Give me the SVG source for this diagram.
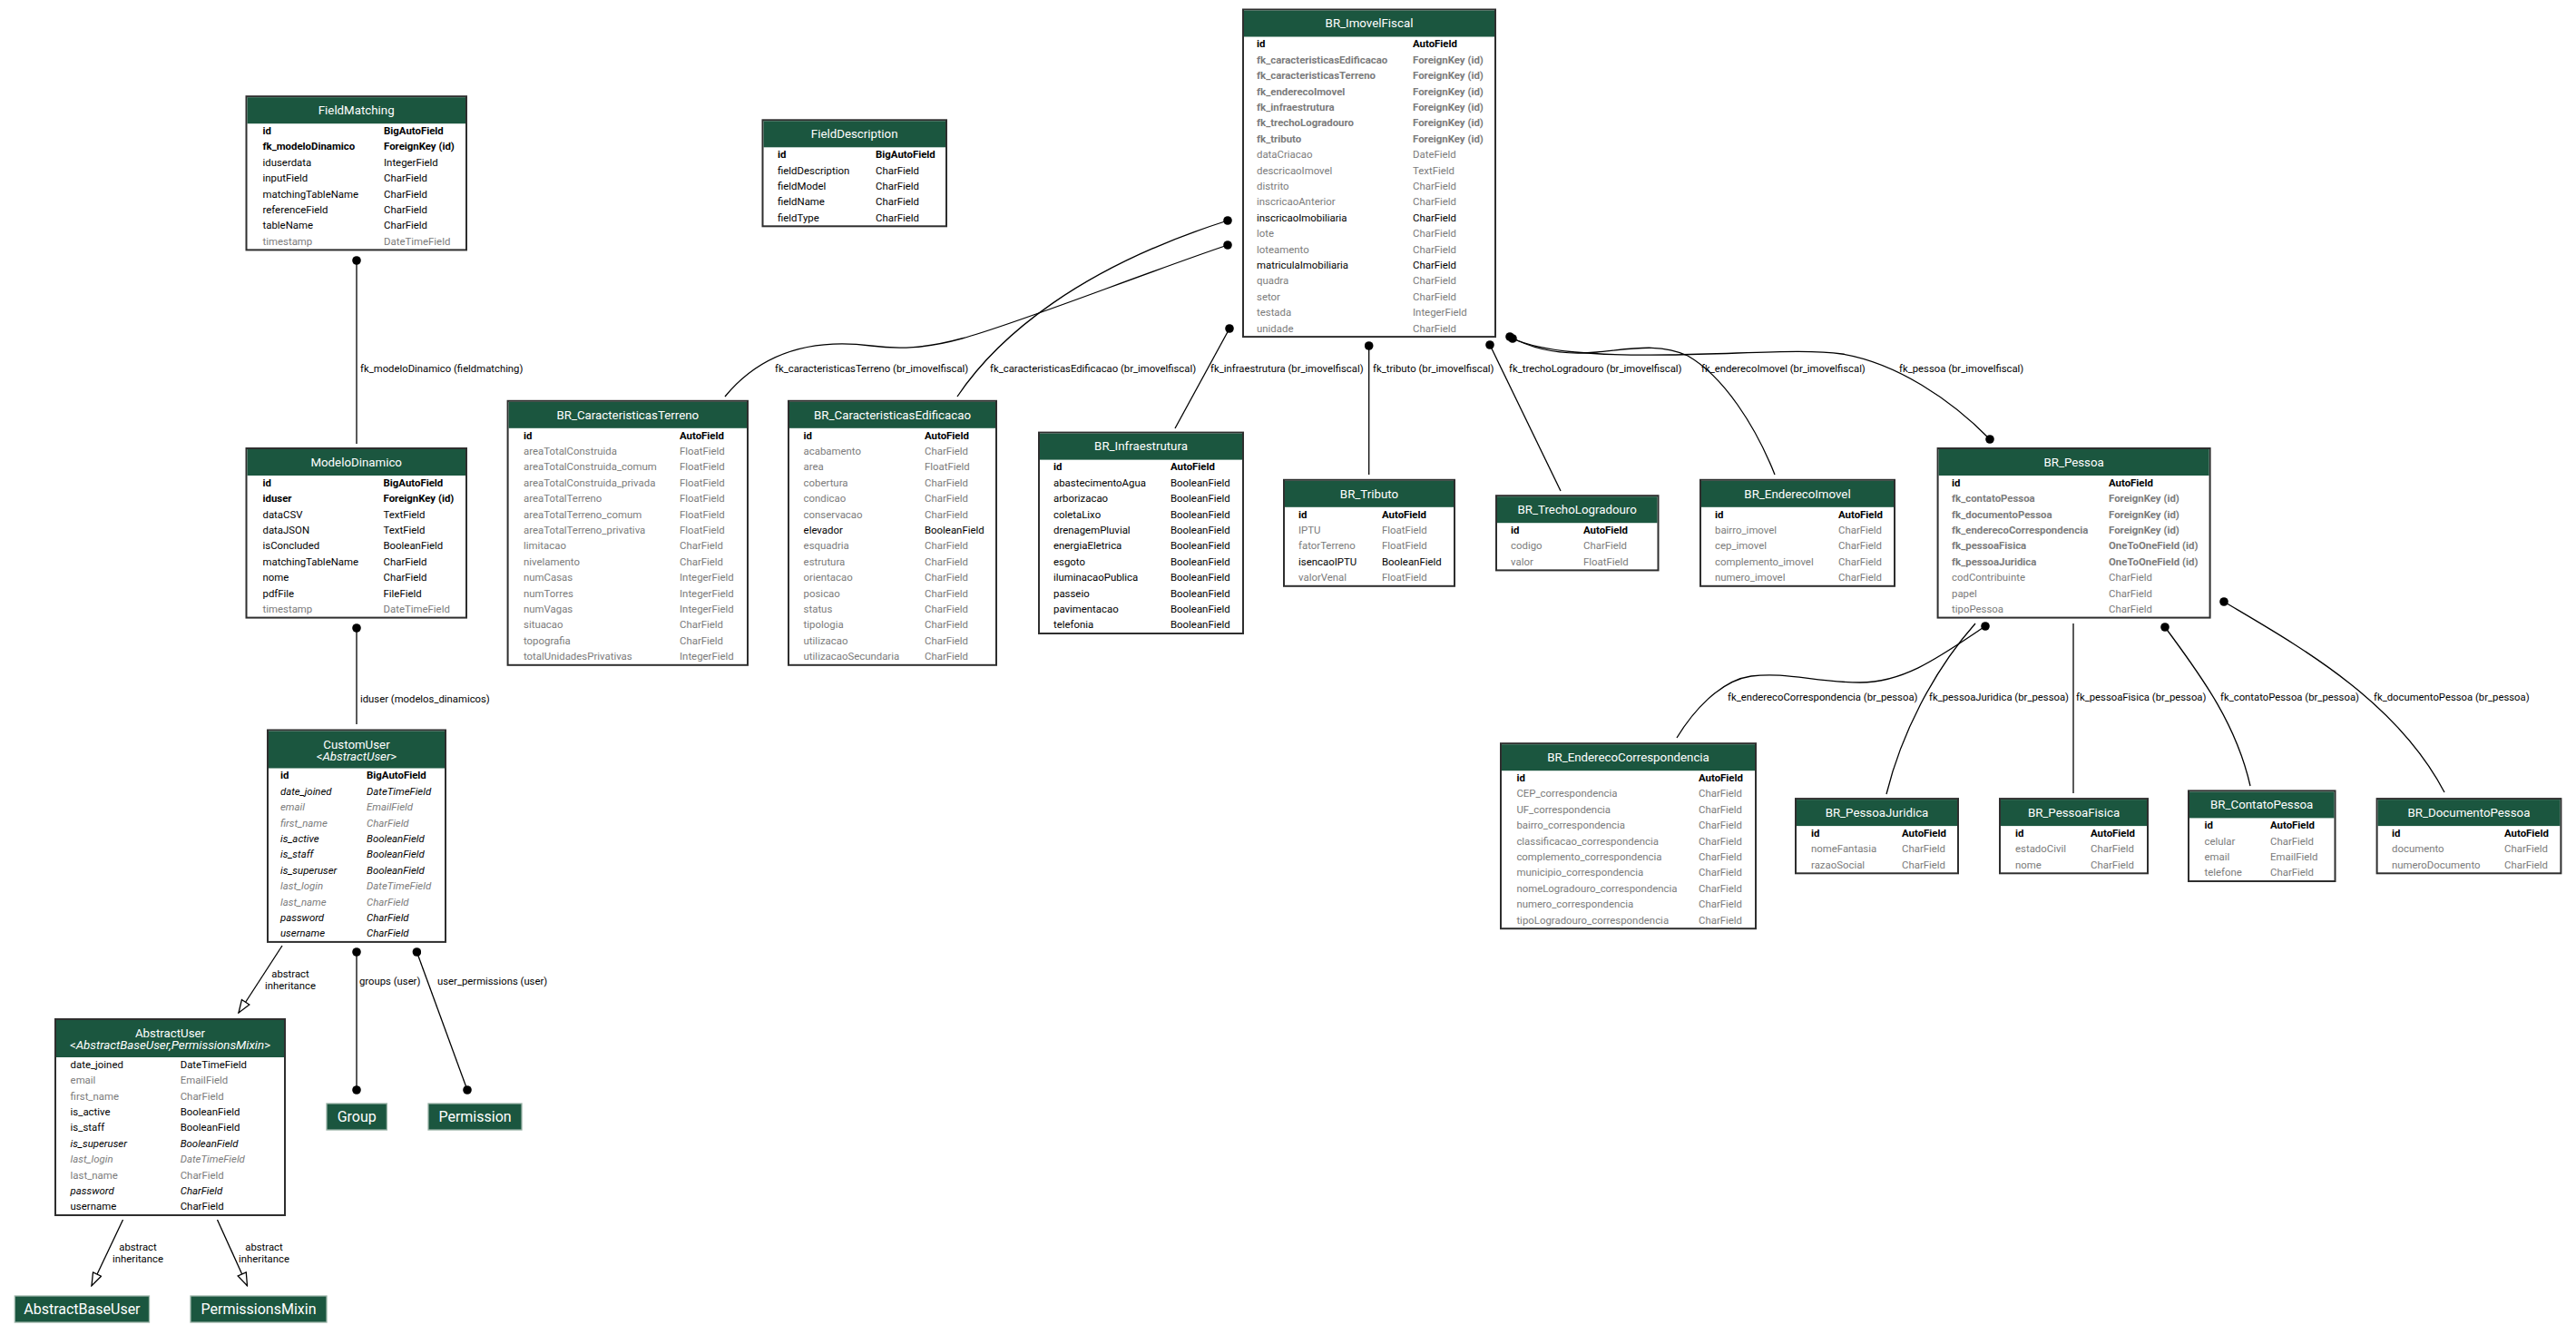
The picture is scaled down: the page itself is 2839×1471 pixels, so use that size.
<svg xmlns="http://www.w3.org/2000/svg" width="2839" height="1471" viewBox="0 0 2839 1471">
<defs>
  <marker id="dot" viewBox="0 0 10 10" refX="5" refY="5" markerWidth="10" markerHeight="10" markerUnits="userSpaceOnUse">
    <circle cx="5" cy="5" r="4.8" fill="#000"/>
  </marker>
  <marker id="empty" viewBox="0 0 16 12" refX="15" refY="6" markerWidth="16" markerHeight="12" markerUnits="userSpaceOnUse" orient="auto">
    <path d="M1,1 L15,6 L1,11 Z" fill="#fff" stroke="#000" stroke-width="1.3"/>
  </marker>
</defs>
<style>
  text { font-family: Roboto, "Liberation Sans", sans-serif; }
  .box { fill: #fff; stroke: #2e2e2e; stroke-width: 2; }
  .hdr { fill: #1b563f; }
  .title { fill: #fff; font-size: 13.3px; text-anchor: middle; }
  .f { font-size: 11.4px; fill: #000; }
  .g { fill: #7b7b7b; }
  .b { font-weight: bold; }
  .i { font-style: italic; }
  .ext { fill: #1b563f; stroke: #9ab3a7; stroke-width: 1.3; }
  .extt { fill: #fff; font-size: 16px; text-anchor: middle; }
  .edge { fill: none; stroke: #000; stroke-width: 1.3; }
  .fk { marker-start: url(#dot); }
  .m2m { marker-start: url(#dot); marker-end: url(#dot); }
  .inh { marker-end: url(#empty); }
  .lbl { font-size: 11.3px; fill: #000; }
  .lblc { font-size: 11.3px; fill: #000; text-anchor: middle; }
</style>

<!-- relations -->
<g id="edges">
  <path class="edge fk" d="M393,287 L393,489"/>
  <text class="lbl" x="397" y="410">fk_modeloDinamico (fieldmatching)</text>

  <path class="edge fk" d="M393,692 L393,798"/>
  <text class="lbl" x="397" y="774">iduser (modelos_dinamicos)</text>

  <path class="edge inh" d="M311,1042 L263,1116"/>
  <text class="lblc" x="320" y="1077">abstract</text>
  <text class="lblc" x="320" y="1090">inheritance</text>

  <path class="edge m2m" d="M393,1049 L393,1201"/>
  <text class="lbl" x="396" y="1085">groups (user)</text>

  <path class="edge m2m" d="M459.4,1049 L515,1201"/>
  <text class="lbl" x="482" y="1085">user_permissions (user)</text>

  <path class="edge inh" d="M135.5,1344 L101,1416.7"/>
  <text class="lblc" x="152" y="1378">abstract</text>
  <text class="lblc" x="152" y="1391">inheritance</text>

  <path class="edge inh" d="M239.5,1344 L272.5,1416.7"/>
  <text class="lblc" x="291" y="1378">abstract</text>
  <text class="lblc" x="291" y="1391">inheritance</text>

  <path class="edge fk" d="M1353,270 C1250,305 1120,357 1060,373 C1020,384 990,385 960,381 C920,376 850,375 799,437"/>
  <text class="lbl" x="854" y="410">fk_caracteristicasTerreno (br_imovelfiscal)</text>

  <path class="edge fk" d="M1353,243 C1190,295 1100,370 1055,437"/>
  <text class="lbl" x="1091" y="410">fk_caracteristicasEdificacao (br_imovelfiscal)</text>

  <path class="edge fk" d="M1355,362 L1295,472"/>
  <text class="lbl" x="1334" y="410">fk_infraestrutura (br_imovelfiscal)</text>

  <path class="edge fk" d="M1508.7,381 L1508.7,523"/>
  <text class="lbl" x="1513" y="410">fk_tributo (br_imovelfiscal)</text>

  <path class="edge fk" d="M1642,380 L1720,541"/>
  <text class="lbl" x="1663" y="410">fk_trechoLogradouro (br_imovelfiscal)</text>

  <path class="edge fk" d="M1664,371 C1690,385 1720,392 1760,388 C1800,384 1830,378 1860,392 C1900,415 1935,470 1956,523"/>
  <text class="lbl" x="1875" y="410">fk_enderecoImovel (br_imovelfiscal)</text>

  <path class="edge m2m" d="M1667,373 C1700,388 1760,392 1840,391 C1920,390 1990,384 2030,390 C2090,400 2150,440 2193,484"/>
  <text class="lbl" x="2093" y="410">fk_pessoa (br_imovelfiscal)</text>

  <path class="edge fk" d="M2188,690 C2140,722 2100,752 2050,752 C2000,752 1970,740 1930,745 C1895,750 1865,785 1848,813"/>
  <text class="lbl" x="1904" y="772">fk_enderecoCorrespondencia (br_pessoa)</text>

  <path class="edge" d="M2177,687 C2130,740 2095,810 2079,875"/>
  <text class="lbl" x="2126" y="772">fk_pessoaJuridica (br_pessoa)</text>

  <path class="edge" d="M2285,687 L2285,874"/>
  <text class="lbl" x="2288" y="772">fk_pessoaFisica (br_pessoa)</text>

  <path class="edge fk" d="M2386,691 C2430,750 2465,800 2480,866"/>
  <text class="lbl" x="2447" y="772">fk_contatoPessoa (br_pessoa)</text>

  <path class="edge fk" d="M2451,663 C2530,710 2640,770 2694,873"/>
  <text class="lbl" x="2616" y="772">fk_documentoPessoa (br_pessoa)</text>
</g>

<!-- models -->
<g id="FieldMatching">
  <rect class="box" x="271.5" y="106.2" width="242.5" height="169.2"/>
  <rect class="hdr" x="272.5" y="107.2" width="240.5" height="29"/>
  <text class="title" x="392.7" y="126">FieldMatching</text>
  <text class="f b" x="289.5" y="148">id</text><text class="f b" x="423" y="148">BigAutoField</text>
  <text class="f b" x="289.5" y="165.4">fk_modeloDinamico</text><text class="f b" x="423" y="165.4">ForeignKey (id)</text>
  <text class="f" x="289.5" y="182.8">iduserdata</text><text class="f" x="423" y="182.8">IntegerField</text>
  <text class="f" x="289.5" y="200.2">inputField</text><text class="f" x="423" y="200.2">CharField</text>
  <text class="f" x="289.5" y="217.6">matchingTableName</text><text class="f" x="423" y="217.6">CharField</text>
  <text class="f" x="289.5" y="235">referenceField</text><text class="f" x="423" y="235">CharField</text>
  <text class="f" x="289.5" y="252.4">tableName</text><text class="f" x="423" y="252.4">CharField</text>
  <text class="f g" x="289.5" y="269.8">timestamp</text><text class="f g" x="423" y="269.8">DateTimeField</text>
</g>

<g id="FieldDescription">
  <rect class="box" x="840.5" y="132.3" width="202.5" height="117"/>
  <rect class="hdr" x="841.5" y="133.3" width="200.5" height="29"/>
  <text class="title" x="941.7" y="152">FieldDescription</text>
  <text class="f b" x="857" y="174.1">id</text><text class="f b" x="965" y="174.1">BigAutoField</text>
  <text class="f" x="857" y="191.5">fieldDescription</text><text class="f" x="965" y="191.5">CharField</text>
  <text class="f" x="857" y="208.9">fieldModel</text><text class="f" x="965" y="208.9">CharField</text>
  <text class="f" x="857" y="226.3">fieldName</text><text class="f" x="965" y="226.3">CharField</text>
  <text class="f" x="857" y="243.7">fieldType</text><text class="f" x="965" y="243.7">CharField</text>
</g>

<g id="ModeloDinamico">
  <rect class="box" x="271.5" y="494" width="242.5" height="186.6"/>
  <rect class="hdr" x="272.5" y="495" width="240.5" height="29"/>
  <text class="title" x="392.7" y="513.8">ModeloDinamico</text>
  <text class="f b" x="289.5" y="535.8">id</text><text class="f b" x="422.5" y="535.8">BigAutoField</text>
  <text class="f b" x="289.5" y="553.2">iduser</text><text class="f b" x="422.5" y="553.2">ForeignKey (id)</text>
  <text class="f" x="289.5" y="570.6">dataCSV</text><text class="f" x="422.5" y="570.6">TextField</text>
  <text class="f" x="289.5" y="588">dataJSON</text><text class="f" x="422.5" y="588">TextField</text>
  <text class="f" x="289.5" y="605.4">isConcluded</text><text class="f" x="422.5" y="605.4">BooleanField</text>
  <text class="f" x="289.5" y="622.8">matchingTableName</text><text class="f" x="422.5" y="622.8">CharField</text>
  <text class="f" x="289.5" y="640.2">nome</text><text class="f" x="422.5" y="640.2">CharField</text>
  <text class="f" x="289.5" y="657.6">pdfFile</text><text class="f" x="422.5" y="657.6">FileField</text>
  <text class="f g" x="289.5" y="675">timestamp</text><text class="f g" x="422.5" y="675">DateTimeField</text>
</g>

<g id="CustomUser">
  <rect class="box" x="295" y="804.5" width="196" height="233.4"/>
  <rect class="hdr" x="296" y="805.5" width="194" height="41"/>
  <text class="title" x="393" y="824.5">CustomUser</text>
  <text class="title" x="393" y="837.5">&lt;<tspan class="i">AbstractUser</tspan>&gt;</text>
  <text class="f b" x="309" y="858.3">id</text><text class="f b" x="404" y="858.3">BigAutoField</text>
  <text class="f i" x="309" y="875.7">date_joined</text><text class="f i" x="404" y="875.7">DateTimeField</text>
  <text class="f i g" x="309" y="893.1">email</text><text class="f i g" x="404" y="893.1">EmailField</text>
  <text class="f i g" x="309" y="910.5">first_name</text><text class="f i g" x="404" y="910.5">CharField</text>
  <text class="f i" x="309" y="927.9">is_active</text><text class="f i" x="404" y="927.9">BooleanField</text>
  <text class="f i" x="309" y="945.3">is_staff</text><text class="f i" x="404" y="945.3">BooleanField</text>
  <text class="f i" x="309" y="962.7">is_superuser</text><text class="f i" x="404" y="962.7">BooleanField</text>
  <text class="f i g" x="309" y="980.1">last_login</text><text class="f i g" x="404" y="980.1">DateTimeField</text>
  <text class="f i g" x="309" y="997.5">last_name</text><text class="f i g" x="404" y="997.5">CharField</text>
  <text class="f i" x="309" y="1014.9">password</text><text class="f i" x="404" y="1014.9">CharField</text>
  <text class="f i" x="309" y="1032.3">username</text><text class="f i" x="404" y="1032.3">CharField</text>
</g>

<g id="AbstractUser">
  <rect class="box" x="61" y="1123" width="253" height="216"/>
  <rect class="hdr" x="62" y="1124" width="251" height="41"/>
  <text class="title" x="187.5" y="1142.5">AbstractUser</text>
  <text class="title" x="187.5" y="1155.5">&lt;<tspan class="i">AbstractBaseUser,PermissionsMixin</tspan>&gt;</text>
  <text class="f" x="77.6" y="1176.8">date_joined</text><text class="f" x="198.7" y="1176.8">DateTimeField</text>
  <text class="f g" x="77.6" y="1194.2">email</text><text class="f g" x="198.7" y="1194.2">EmailField</text>
  <text class="f g" x="77.6" y="1211.6">first_name</text><text class="f g" x="198.7" y="1211.6">CharField</text>
  <text class="f" x="77.6" y="1229">is_active</text><text class="f" x="198.7" y="1229">BooleanField</text>
  <text class="f" x="77.6" y="1246.4">is_staff</text><text class="f" x="198.7" y="1246.4">BooleanField</text>
  <text class="f i" x="77.6" y="1263.8">is_superuser</text><text class="f i" x="198.7" y="1263.8">BooleanField</text>
  <text class="f i g" x="77.6" y="1281.2">last_login</text><text class="f i g" x="198.7" y="1281.2">DateTimeField</text>
  <text class="f g" x="77.6" y="1298.6">last_name</text><text class="f g" x="198.7" y="1298.6">CharField</text>
  <text class="f i" x="77.6" y="1316">password</text><text class="f i" x="198.7" y="1316">CharField</text>
  <text class="f" x="77.6" y="1333.4">username</text><text class="f" x="198.7" y="1333.4">CharField</text>
</g>

<g id="Group">
  <rect class="ext" x="360" y="1216" width="66.4" height="29"/>
  <text class="extt" x="393.2" y="1236.3">Group</text>
</g>
<g id="Permission">
  <rect class="ext" x="472" y="1216" width="103" height="29"/>
  <text class="extt" x="523.5" y="1236.3">Permission</text>
</g>
<g id="AbstractBaseUser">
  <rect class="ext" x="16.3" y="1428" width="148.2" height="29"/>
  <text class="extt" x="90.4" y="1448.3">AbstractBaseUser</text>
</g>
<g id="PermissionsMixin">
  <rect class="ext" x="210" y="1428" width="150" height="29"/>
  <text class="extt" x="285" y="1448.3">PermissionsMixin</text>
</g>

<g id="BR_ImovelFiscal">
  <rect class="box" x="1370" y="10.5" width="278" height="360.6"/>
  <rect class="hdr" x="1371" y="11.5" width="276" height="29"/>
  <text class="title" x="1509" y="30.2">BR_ImovelFiscal</text>
  <text class="f b" x="1385" y="52.3">id</text><text class="f b" x="1557" y="52.3">AutoField</text>
  <text class="f b g" x="1385" y="69.7">fk_caracteristicasEdificacao</text><text class="f b g" x="1557" y="69.7">ForeignKey (id)</text>
  <text class="f b g" x="1385" y="87.1">fk_caracteristicasTerreno</text><text class="f b g" x="1557" y="87.1">ForeignKey (id)</text>
  <text class="f b g" x="1385" y="104.5">fk_enderecoImovel</text><text class="f b g" x="1557" y="104.5">ForeignKey (id)</text>
  <text class="f b g" x="1385" y="121.9">fk_infraestrutura</text><text class="f b g" x="1557" y="121.9">ForeignKey (id)</text>
  <text class="f b g" x="1385" y="139.3">fk_trechoLogradouro</text><text class="f b g" x="1557" y="139.3">ForeignKey (id)</text>
  <text class="f b g" x="1385" y="156.7">fk_tributo</text><text class="f b g" x="1557" y="156.7">ForeignKey (id)</text>
  <text class="f g" x="1385" y="174.1">dataCriacao</text><text class="f g" x="1557" y="174.1">DateField</text>
  <text class="f g" x="1385" y="191.5">descricaoImovel</text><text class="f g" x="1557" y="191.5">TextField</text>
  <text class="f g" x="1385" y="208.9">distrito</text><text class="f g" x="1557" y="208.9">CharField</text>
  <text class="f g" x="1385" y="226.3">inscricaoAnterior</text><text class="f g" x="1557" y="226.3">CharField</text>
  <text class="f" x="1385" y="243.7">inscricaoImobiliaria</text><text class="f" x="1557" y="243.7">CharField</text>
  <text class="f g" x="1385" y="261.1">lote</text><text class="f g" x="1557" y="261.1">CharField</text>
  <text class="f g" x="1385" y="278.5">loteamento</text><text class="f g" x="1557" y="278.5">CharField</text>
  <text class="f" x="1385" y="295.9">matriculaImobiliaria</text><text class="f" x="1557" y="295.9">CharField</text>
  <text class="f g" x="1385" y="313.3">quadra</text><text class="f g" x="1557" y="313.3">CharField</text>
  <text class="f g" x="1385" y="330.7">setor</text><text class="f g" x="1557" y="330.7">CharField</text>
  <text class="f g" x="1385" y="348.1">testada</text><text class="f g" x="1557" y="348.1">IntegerField</text>
  <text class="f g" x="1385" y="365.5">unidade</text><text class="f g" x="1557" y="365.5">CharField</text>
</g>

<g id="BR_CaracteristicasTerreno">
  <rect class="box" x="559.6" y="441.8" width="264.4" height="291"/>
  <rect class="hdr" x="560.6" y="442.8" width="262.4" height="29"/>
  <text class="title" x="691.8" y="461.5">BR_CaracteristicasTerreno</text>
  <text class="f b" x="577" y="483.6">id</text><text class="f b" x="749" y="483.6">AutoField</text>
  <text class="f g" x="577" y="501">areaTotalConstruida</text><text class="f g" x="749" y="501">FloatField</text>
  <text class="f g" x="577" y="518.4">areaTotalConstruida_comum</text><text class="f g" x="749" y="518.4">FloatField</text>
  <text class="f g" x="577" y="535.8">areaTotalConstruida_privada</text><text class="f g" x="749" y="535.8">FloatField</text>
  <text class="f g" x="577" y="553.2">areaTotalTerreno</text><text class="f g" x="749" y="553.2">FloatField</text>
  <text class="f g" x="577" y="570.6">areaTotalTerreno_comum</text><text class="f g" x="749" y="570.6">FloatField</text>
  <text class="f g" x="577" y="588">areaTotalTerreno_privativa</text><text class="f g" x="749" y="588">FloatField</text>
  <text class="f g" x="577" y="605.4">limitacao</text><text class="f g" x="749" y="605.4">CharField</text>
  <text class="f g" x="577" y="622.8">nivelamento</text><text class="f g" x="749" y="622.8">CharField</text>
  <text class="f g" x="577" y="640.2">numCasas</text><text class="f g" x="749" y="640.2">IntegerField</text>
  <text class="f g" x="577" y="657.6">numTorres</text><text class="f g" x="749" y="657.6">IntegerField</text>
  <text class="f g" x="577" y="675">numVagas</text><text class="f g" x="749" y="675">IntegerField</text>
  <text class="f g" x="577" y="692.4">situacao</text><text class="f g" x="749" y="692.4">CharField</text>
  <text class="f g" x="577" y="709.8">topografia</text><text class="f g" x="749" y="709.8">CharField</text>
  <text class="f g" x="577" y="727.2">totalUnidadesPrivativas</text><text class="f g" x="749" y="727.2">IntegerField</text>
</g>

<g id="BR_CaracteristicasEdificacao">
  <rect class="box" x="869" y="441.8" width="229" height="291"/>
  <rect class="hdr" x="870" y="442.8" width="227" height="29"/>
  <text class="title" x="983.5" y="461.5">BR_CaracteristicasEdificacao</text>
  <text class="f b" x="885.6" y="483.6">id</text><text class="f b" x="1019" y="483.6">AutoField</text>
  <text class="f g" x="885.6" y="501">acabamento</text><text class="f g" x="1019" y="501">CharField</text>
  <text class="f g" x="885.6" y="518.4">area</text><text class="f g" x="1019" y="518.4">FloatField</text>
  <text class="f g" x="885.6" y="535.8">cobertura</text><text class="f g" x="1019" y="535.8">CharField</text>
  <text class="f g" x="885.6" y="553.2">condicao</text><text class="f g" x="1019" y="553.2">CharField</text>
  <text class="f g" x="885.6" y="570.6">conservacao</text><text class="f g" x="1019" y="570.6">CharField</text>
  <text class="f" x="885.6" y="588">elevador</text><text class="f" x="1019" y="588">BooleanField</text>
  <text class="f g" x="885.6" y="605.4">esquadria</text><text class="f g" x="1019" y="605.4">CharField</text>
  <text class="f g" x="885.6" y="622.8">estrutura</text><text class="f g" x="1019" y="622.8">CharField</text>
  <text class="f g" x="885.6" y="640.2">orientacao</text><text class="f g" x="1019" y="640.2">CharField</text>
  <text class="f g" x="885.6" y="657.6">posicao</text><text class="f g" x="1019" y="657.6">CharField</text>
  <text class="f g" x="885.6" y="675">status</text><text class="f g" x="1019" y="675">CharField</text>
  <text class="f g" x="885.6" y="692.4">tipologia</text><text class="f g" x="1019" y="692.4">CharField</text>
  <text class="f g" x="885.6" y="709.8">utilizacao</text><text class="f g" x="1019" y="709.8">CharField</text>
  <text class="f g" x="885.6" y="727.2">utilizacaoSecundaria</text><text class="f g" x="1019" y="727.2">CharField</text>
</g>

<g id="BR_Infraestrutura">
  <rect class="box" x="1145" y="476.6" width="225" height="221.4"/>
  <rect class="hdr" x="1146" y="477.6" width="223" height="29"/>
  <text class="title" x="1257.5" y="496.3">BR_Infraestrutura</text>
  <text class="f b" x="1161" y="518.4">id</text><text class="f b" x="1290" y="518.4">AutoField</text>
  <text class="f" x="1161" y="535.8">abastecimentoAgua</text><text class="f" x="1290" y="535.8">BooleanField</text>
  <text class="f" x="1161" y="553.2">arborizacao</text><text class="f" x="1290" y="553.2">BooleanField</text>
  <text class="f" x="1161" y="570.6">coletaLixo</text><text class="f" x="1290" y="570.6">BooleanField</text>
  <text class="f" x="1161" y="588">drenagemPluvial</text><text class="f" x="1290" y="588">BooleanField</text>
  <text class="f" x="1161" y="605.4">energiaEletrica</text><text class="f" x="1290" y="605.4">BooleanField</text>
  <text class="f" x="1161" y="622.8">esgoto</text><text class="f" x="1290" y="622.8">BooleanField</text>
  <text class="f" x="1161" y="640.2">iluminacaoPublica</text><text class="f" x="1290" y="640.2">BooleanField</text>
  <text class="f" x="1161" y="657.6">passeio</text><text class="f" x="1290" y="657.6">BooleanField</text>
  <text class="f" x="1161" y="675">pavimentacao</text><text class="f" x="1290" y="675">BooleanField</text>
  <text class="f" x="1161" y="692.4">telefonia</text><text class="f" x="1290" y="692.4">BooleanField</text>
</g>

<g id="BR_Tributo">
  <rect class="box" x="1415" y="528.8" width="188" height="117"/>
  <rect class="hdr" x="1416" y="529.8" width="186" height="29"/>
  <text class="title" x="1509" y="548.5">BR_Tributo</text>
  <text class="f b" x="1431" y="570.6">id</text><text class="f b" x="1523" y="570.6">AutoField</text>
  <text class="f g" x="1431" y="588">IPTU</text><text class="f g" x="1523" y="588">FloatField</text>
  <text class="f g" x="1431" y="605.4">fatorTerreno</text><text class="f g" x="1523" y="605.4">FloatField</text>
  <text class="f" x="1431" y="622.8">isencaoIPTU</text><text class="f" x="1523" y="622.8">BooleanField</text>
  <text class="f g" x="1431" y="640.2">valorVenal</text><text class="f g" x="1523" y="640.2">FloatField</text>
</g>

<g id="BR_TrechoLogradouro">
  <rect class="box" x="1649" y="546.2" width="178.5" height="82.2"/>
  <rect class="hdr" x="1650" y="547.2" width="176.5" height="29"/>
  <text class="title" x="1738.2" y="565.9">BR_TrechoLogradouro</text>
  <text class="f b" x="1665" y="588">id</text><text class="f b" x="1745" y="588">AutoField</text>
  <text class="f g" x="1665" y="605.4">codigo</text><text class="f g" x="1745" y="605.4">CharField</text>
  <text class="f g" x="1665" y="622.8">valor</text><text class="f g" x="1745" y="622.8">FloatField</text>
</g>

<g id="BR_EnderecoImovel">
  <rect class="box" x="1874" y="528.8" width="214" height="117"/>
  <rect class="hdr" x="1875" y="529.8" width="212" height="29"/>
  <text class="title" x="1981" y="548.5">BR_EnderecoImovel</text>
  <text class="f b" x="1890" y="570.6">id</text><text class="f b" x="2026" y="570.6">AutoField</text>
  <text class="f g" x="1890" y="588">bairro_imovel</text><text class="f g" x="2026" y="588">CharField</text>
  <text class="f g" x="1890" y="605.4">cep_imovel</text><text class="f g" x="2026" y="605.4">CharField</text>
  <text class="f g" x="1890" y="622.8">complemento_imovel</text><text class="f g" x="2026" y="622.8">CharField</text>
  <text class="f g" x="1890" y="640.2">numero_imovel</text><text class="f g" x="2026" y="640.2">CharField</text>
</g>

<g id="BR_Pessoa">
  <rect class="box" x="2135.6" y="494" width="300" height="186.6"/>
  <rect class="hdr" x="2136.6" y="495" width="298" height="29"/>
  <text class="title" x="2285.6" y="513.8">BR_Pessoa</text>
  <text class="f b" x="2151" y="535.8">id</text><text class="f b" x="2324" y="535.8">AutoField</text>
  <text class="f b g" x="2151" y="553.2">fk_contatoPessoa</text><text class="f b g" x="2324" y="553.2">ForeignKey (id)</text>
  <text class="f b g" x="2151" y="570.6">fk_documentoPessoa</text><text class="f b g" x="2324" y="570.6">ForeignKey (id)</text>
  <text class="f b g" x="2151" y="588">fk_enderecoCorrespondencia</text><text class="f b g" x="2324" y="588">ForeignKey (id)</text>
  <text class="f b g" x="2151" y="605.4">fk_pessoaFisica</text><text class="f b g" x="2324" y="605.4">OneToOneField (id)</text>
  <text class="f b g" x="2151" y="622.8">fk_pessoaJuridica</text><text class="f b g" x="2324" y="622.8">OneToOneField (id)</text>
  <text class="f g" x="2151" y="640.2">codContribuinte</text><text class="f g" x="2324" y="640.2">CharField</text>
  <text class="f g" x="2151" y="657.6">papel</text><text class="f g" x="2324" y="657.6">CharField</text>
  <text class="f g" x="2151" y="675">tipoPessoa</text><text class="f g" x="2324" y="675">CharField</text>
</g>

<g id="BR_EnderecoCorrespondencia">
  <rect class="box" x="1654" y="819.2" width="281" height="204"/>
  <rect class="hdr" x="1655" y="820.2" width="279" height="29"/>
  <text class="title" x="1794.5" y="838.9">BR_EnderecoCorrespondencia</text>
  <text class="f b" x="1671.4" y="861">id</text><text class="f b" x="1872" y="861">AutoField</text>
  <text class="f g" x="1671.4" y="878.4">CEP_correspondencia</text><text class="f g" x="1872" y="878.4">CharField</text>
  <text class="f g" x="1671.4" y="895.8">UF_correspondencia</text><text class="f g" x="1872" y="895.8">CharField</text>
  <text class="f g" x="1671.4" y="913.2">bairro_correspondencia</text><text class="f g" x="1872" y="913.2">CharField</text>
  <text class="f g" x="1671.4" y="930.6">classificacao_correspondencia</text><text class="f g" x="1872" y="930.6">CharField</text>
  <text class="f g" x="1671.4" y="948">complemento_correspondencia</text><text class="f g" x="1872" y="948">CharField</text>
  <text class="f g" x="1671.4" y="965.4">municipio_correspondencia</text><text class="f g" x="1872" y="965.4">CharField</text>
  <text class="f g" x="1671.4" y="982.8">nomeLogradouro_correspondencia</text><text class="f g" x="1872" y="982.8">CharField</text>
  <text class="f g" x="1671.4" y="1000.2">numero_correspondencia</text><text class="f g" x="1872" y="1000.2">CharField</text>
  <text class="f g" x="1671.4" y="1017.6">tipoLogradouro_correspondencia</text><text class="f g" x="1872" y="1017.6">CharField</text>
</g>

<g id="BR_PessoaJuridica">
  <rect class="box" x="1979" y="880.1" width="179" height="82.2"/>
  <rect class="hdr" x="1980" y="881.1" width="177" height="29"/>
  <text class="title" x="2068.5" y="899.8">BR_PessoaJuridica</text>
  <text class="f b" x="1996" y="921.9">id</text><text class="f b" x="2096" y="921.9">AutoField</text>
  <text class="f g" x="1996" y="939.3">nomeFantasia</text><text class="f g" x="2096" y="939.3">CharField</text>
  <text class="f g" x="1996" y="956.7">razaoSocial</text><text class="f g" x="2096" y="956.7">CharField</text>
</g>

<g id="BR_PessoaFisica">
  <rect class="box" x="2204" y="880.1" width="163" height="82.2"/>
  <rect class="hdr" x="2205" y="881.1" width="161" height="29"/>
  <text class="title" x="2285.5" y="899.8">BR_PessoaFisica</text>
  <text class="f b" x="2221" y="921.9">id</text><text class="f b" x="2304" y="921.9">AutoField</text>
  <text class="f g" x="2221" y="939.3">estadoCivil</text><text class="f g" x="2304" y="939.3">CharField</text>
  <text class="f g" x="2221" y="956.7">nome</text><text class="f g" x="2304" y="956.7">CharField</text>
</g>

<g id="BR_ContatoPessoa">
  <rect class="box" x="2412" y="871.4" width="161.5" height="99.6"/>
  <rect class="hdr" x="2413" y="872.4" width="159.5" height="29"/>
  <text class="title" x="2492.7" y="891.1">BR_ContatoPessoa</text>
  <text class="f b" x="2429.5" y="913.2">id</text><text class="f b" x="2502" y="913.2">AutoField</text>
  <text class="f g" x="2429.5" y="930.6">celular</text><text class="f g" x="2502" y="930.6">CharField</text>
  <text class="f g" x="2429.5" y="948">email</text><text class="f g" x="2502" y="948">EmailField</text>
  <text class="f g" x="2429.5" y="965.4">telefone</text><text class="f g" x="2502" y="965.4">CharField</text>
</g>

<g id="BR_DocumentoPessoa">
  <rect class="box" x="2619.6" y="880.1" width="202.8" height="82.2"/>
  <rect class="hdr" x="2620.6" y="881.1" width="200.8" height="29"/>
  <text class="title" x="2721" y="899.8">BR_DocumentoPessoa</text>
  <text class="f b" x="2636" y="921.9">id</text><text class="f b" x="2760" y="921.9">AutoField</text>
  <text class="f g" x="2636" y="939.3">documento</text><text class="f g" x="2760" y="939.3">CharField</text>
  <text class="f g" x="2636" y="956.7">numeroDocumento</text><text class="f g" x="2760" y="956.7">CharField</text>
</g>
</svg>
